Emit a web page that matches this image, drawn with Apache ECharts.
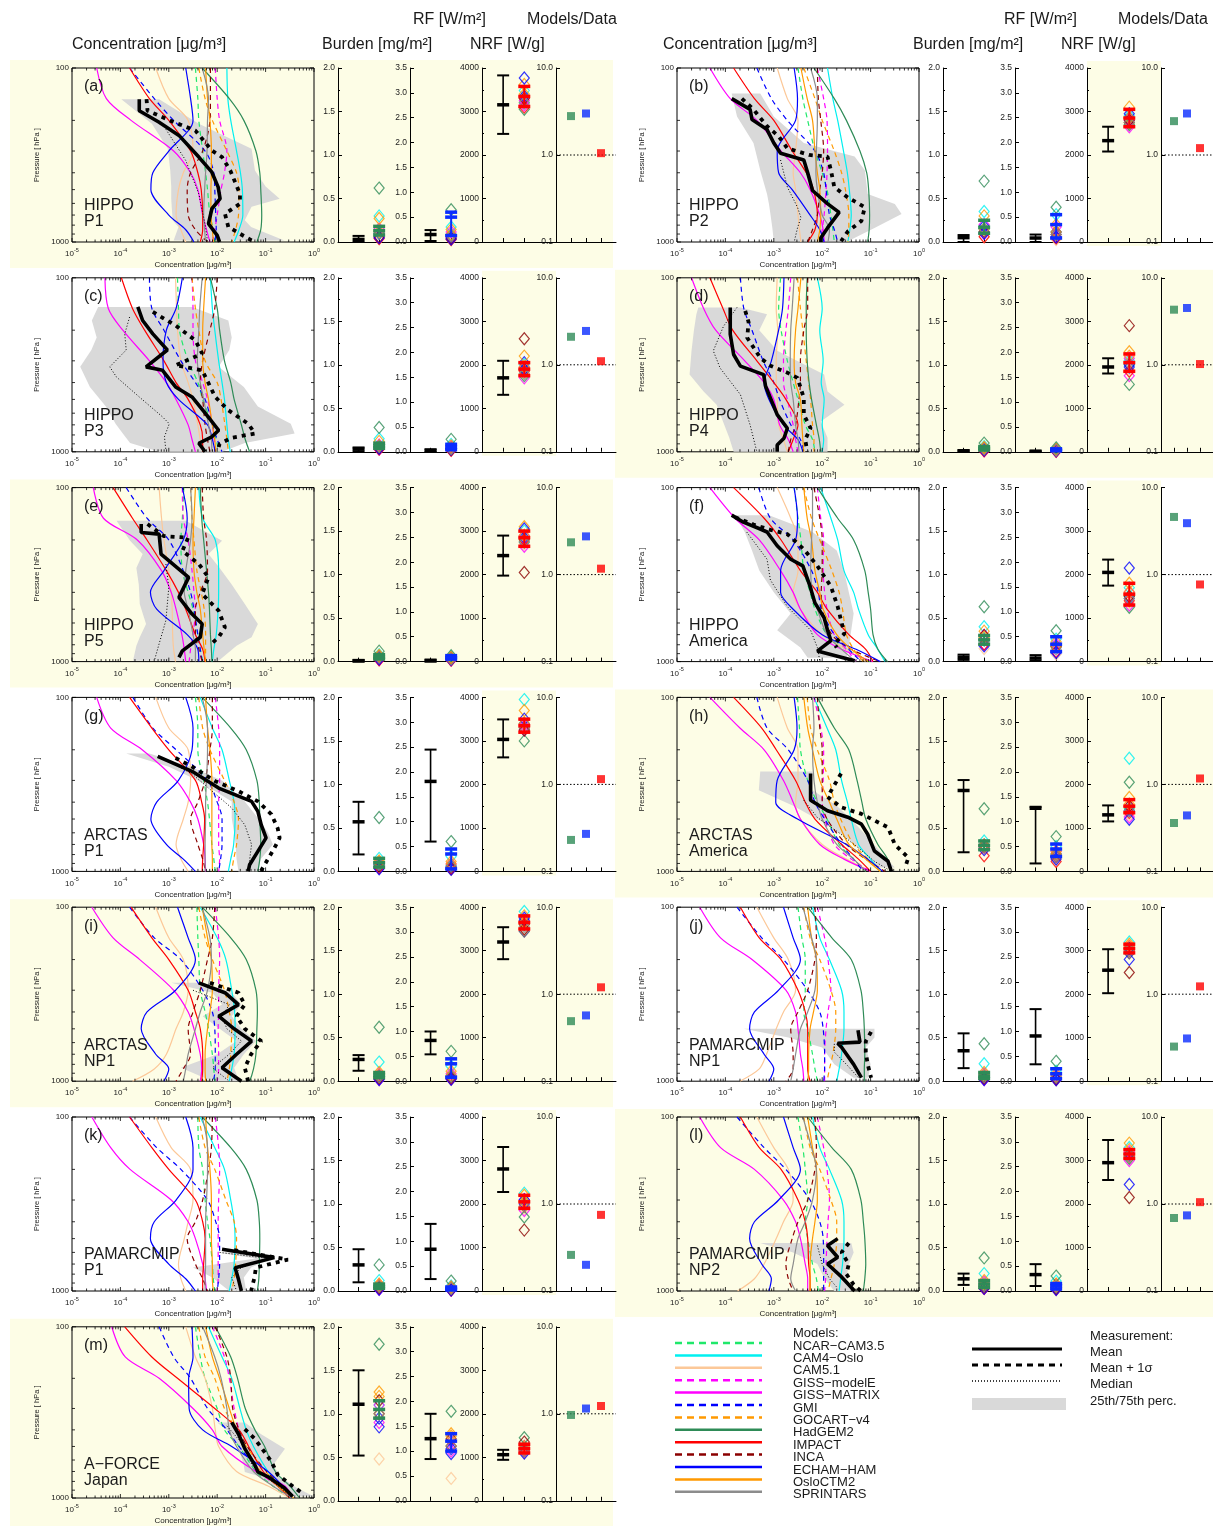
<!DOCTYPE html>
<html><head><meta charset="utf-8">
<script src="https://cdn.jsdelivr.net/npm/echarts@6/dist/echarts.min.js"></script>
<style>html,body{margin:0;padding:0;background:#fff}#c{width:1213px;height:1526px}</style>
</head><body><div id="c"></div><script>
// ---------- model metadata ----------
const MODEL_NAMES = ['NCAR−CAM3.5','CAM4−Oslo','CAM5.1','GISS−modelE','GISS−MATRIX','GMI','GOCART−v4','HadGEM2','IMPACT','INCA','ECHAM−HAM','OsloCTM2','SPRINTARS'];
const MODEL_COLORS = ['#1fe86a','#00f0f0','#fcc898','#ff00ff','#ff00ff','#0000ff','#ff9900','#2e8b57','#ff0000','#8b0000','#0000ff','#ff9900','#8c8c8c'];
const MODEL_DASHED = [true,false,false,true,false,true,true,false,false,true,false,false,false];
// model profile pressure levels (hPa); profile values are log10 of concentration [ug/m3]
const P_LEVELS = [100,150,200,300,400,500,700,850,1000];
const PANELS = ['a','b','c','d','e','f','g','h','i','j','k','l','m'];
const PANEL_TITLES = [['HIPPO','P1'],['HIPPO','P2'],['HIPPO','P3'],['HIPPO','P4'],['HIPPO','P5'],['HIPPO','America'],['ARCTAS','P1'],['ARCTAS','America'],['ARCTAS','NP1'],['PAMARCMIP','NP1'],['PAMARCMIP','P1'],['PAMARCMIP','NP2'],['A−FORCE','Japan']];

// ---------- profiles (log10 concentration at P_LEVELS) ----------
const prof_a = [[-2.45,-2.4,-2.38,-2.3,-2.24,-2.2,-2.15,-2.08,-2.05],[-1.8,-1.78,-1.72,-1.6,-1.52,-1.48,-1.47,-1.55,-1.65],[-3.27,-3.0,-2.6,-2.5,-2.7,-2.8,-2.85,-2.75,-2.65],[-2.04,-2.0,-1.95,-1.8,-1.85,-1.92,-2.0,-2.05,-2.1],[-4.49,-4.29,-3.78,-2.9,-2.55,-2.4,-2.3,-2.22,-2.15],[-3.81,-3.3,-2.9,-2.25,-2.07,-2.05,-2.03,-2.02,-2.05],[-2.38,-2.25,-2.1,-1.8,-1.6,-1.55,-1.56,-1.62,-1.7],[-2.31,-1.75,-1.45,-1.2,-1.12,-1.1,-1.08,-1.1,-1.18],[-3.81,-3.4,-3.0,-2.55,-2.4,-2.33,-2.3,-2.3,-2.35],[-2.14,-2.14,-2.15,-2.3,-2.55,-2.62,-2.6,-2.45,-2.2],[-2.65,-2.55,-2.5,-3.0,-3.33,-3.37,-3.0,-2.65,-2.48],[-2.24,-2.2,-2.15,-2.12,-2.12,-2.13,-2.13,-2.1,-2.08],[-2.31,-2.18,-2.2,-2.21,-2.24,-2.26,-2.28,-2.26,-2.24]];
const prof_b = [[-2.5,-2.4,-2.3,-2.15,-2.0,-1.9,-1.82,-1.78,-1.75],[-1.89,-1.78,-1.68,-1.56,-1.48,-1.44,-1.4,-1.43,-1.47],[-2.93,-2.72,-2.5,-2.55,-2.6,-2.55,-2.5,-2.47,-2.44],[-2.1,-1.97,-1.9,-1.89,-1.9,-1.92,-1.96,-2.0,-2.03],[-4.32,-3.9,-3.35,-2.85,-2.45,-2.25,-2.05,-1.98,-1.96],[-3.35,-3.05,-2.72,-2.15,-1.97,-1.92,-1.85,-1.75,-1.68],[-2.38,-2.15,-2.0,-1.75,-1.6,-1.52,-1.45,-1.45,-1.47],[-2.17,-1.75,-1.5,-1.22,-1.08,-1.04,-1.02,-1.03,-1.06],[-3.83,-3.4,-3.0,-2.62,-2.33,-2.18,-2.1,-2.15,-2.3],[-2.1,-2.08,-2.03,-1.97,-2.0,-2.05,-2.1,-2.2,-2.3],[-2.58,-2.51,-2.55,-2.93,-2.9,-2.62,-2.25,-2.05,-1.96],[-2.44,-2.31,-2.2,-2.15,-2.1,-2.05,-2.03,-2.05,-2.1],[-2.24,-2.1,-2.1,-2.12,-2.13,-2.1,-2.0,-1.85,-1.88]];
const prof_c = [[-2.82,-2.8,-2.78,-2.6,-2.4,-2.3,-2.1,-2.02,-1.97],[-2.14,-2.1,-2.05,-1.97,-1.9,-1.85,-1.8,-1.77,-1.73],[-2.86,-2.84,-2.82,-2.75,-2.6,-2.5,-2.4,-2.35,-2.3],[-2.52,-2.5,-2.5,-2.45,-2.3,-2.2,-2.1,-2.06,-2.04],[-4.32,-4.25,-3.95,-3.4,-3.05,-2.85,-2.6,-2.52,-2.45],[-3.4,-3.35,-3.1,-2.75,-2.45,-2.25,-2.1,-2.0,-1.9],[-2.52,-2.45,-2.38,-2.25,-2.0,-1.92,-1.84,-1.8,-1.77],[-2.14,-2.0,-1.95,-1.85,-1.72,-1.65,-1.5,-1.42,-1.33],[-3.98,-3.75,-3.5,-3.1,-2.85,-2.6,-2.35,-2.3,-2.3],[-2.0,-2.05,-2.15,-2.3,-2.35,-2.3,-2.25,-2.2,-2.15],[-2.72,-2.85,-3.05,-3.12,-3.05,-2.8,-2.2,-2.1,-2.04],[-2.24,-2.28,-2.3,-2.3,-2.25,-2.18,-2.1,-2.05,-2.03],[-2.31,-2.36,-2.38,-2.41,-2.35,-2.28,-2.18,-2.12,-2.11]];
const prof_d = [[-2.86,-2.9,-2.85,-2.72,-2.6,-2.5,-2.35,-2.2,-2.15],[-2.1,-2.0,-2.05,-1.98,-2.02,-1.96,-2.0,-1.97,-2.0],[-2.93,-2.95,-2.92,-2.95,-2.95,-2.93,-2.9,-2.8,-2.72],[-2.65,-2.7,-2.75,-2.8,-2.8,-2.72,-2.6,-2.55,-2.5],[-4.7,-4.45,-4.2,-3.6,-3.2,-3.0,-2.88,-2.7,-2.6],[-3.69,-3.62,-3.45,-3.22,-3.0,-2.88,-2.65,-2.45,-2.38],[-2.51,-2.45,-2.4,-2.33,-2.28,-2.24,-2.2,-2.17,-2.17],[-2.31,-2.33,-2.33,-2.31,-2.27,-2.22,-2.12,-2.06,-2.03],[-4.32,-4.05,-3.85,-3.35,-3.0,-2.75,-2.5,-2.6,-2.7],[-2.3,-2.3,-2.38,-2.45,-2.45,-2.48,-2.55,-2.65,-2.7],[-2.79,-2.82,-2.9,-3.05,-3.2,-3.1,-2.8,-2.5,-2.4],[-2.44,-2.5,-2.55,-2.58,-2.55,-2.45,-2.42,-2.4,-2.38],[-2.58,-2.62,-2.65,-2.66,-2.65,-2.6,-2.55,-2.5,-2.48]];
const prof_e = [[-2.69,-2.72,-2.75,-2.72,-2.6,-2.5,-2.4,-2.35,-2.3],[-2.38,-2.3,-2.04,-1.97,-1.97,-1.98,-2.02,-2.07,-2.1],[-3.2,-3.15,-3.1,-3.0,-2.95,-2.93,-2.92,-2.9,-2.86],[-2.72,-2.7,-2.6,-2.52,-2.48,-2.45,-2.5,-2.55,-2.58],[-4.56,-4.35,-3.65,-3.15,-2.95,-2.85,-2.73,-2.68,-2.65],[-3.88,-3.45,-3.0,-2.7,-2.55,-2.48,-2.4,-2.35,-2.31],[-2.55,-2.52,-2.48,-2.42,-2.33,-2.27,-2.24,-2.24,-2.24],[-2.35,-2.32,-2.28,-2.22,-2.18,-2.16,-2.14,-2.12,-2.11],[-4.15,-3.75,-3.45,-3.05,-2.8,-2.65,-2.45,-2.3,-2.25],[-2.31,-2.28,-2.22,-2.2,-2.35,-2.45,-2.45,-2.38,-2.31],[-2.72,-2.62,-2.7,-3.1,-3.38,-3.25,-2.62,-2.4,-2.38],[-2.45,-2.48,-2.5,-2.48,-2.42,-2.35,-2.3,-2.27,-2.24],[-2.55,-2.52,-2.55,-2.65,-2.68,-2.6,-2.5,-2.45,-2.45]];
const prof_f = [[-2.58,-2.5,-2.44,-2.38,-2.25,-2.15,-1.9,-1.5,-1.0],[-2.03,-1.82,-1.68,-1.55,-1.35,-1.25,-1.05,-0.85,-0.7],[-2.93,-2.65,-2.5,-2.5,-2.6,-2.45,-2.0,-1.5,-1.1],[-2.1,-2.03,-1.97,-1.98,-1.95,-1.9,-1.75,-1.5,-1.3],[-4.32,-3.8,-3.3,-2.86,-2.6,-2.45,-2.1,-1.6,-0.95],[-3.31,-3.07,-2.6,-2.22,-2.08,-2.02,-1.75,-1.45,-1.2],[-2.38,-2.22,-2.05,-1.8,-1.65,-1.58,-1.5,-1.35,-1.15],[-2.1,-1.68,-1.35,-1.12,-1.05,-1.0,-0.95,-0.85,-0.65],[-3.83,-3.2,-2.85,-2.45,-2.1,-1.9,-1.45,-1.1,-0.95],[-2.17,-2.05,-2.0,-2.0,-2.02,-2.0,-1.8,-1.4,-0.8],[-2.58,-2.51,-2.55,-2.86,-2.86,-2.6,-2.0,-1.3,-0.8],[-2.38,-2.31,-2.22,-2.15,-2.05,-1.98,-1.7,-1.4,-1.05],[-2.2,-2.2,-2.22,-2.24,-2.2,-2.1,-1.9,-1.6,-1.3]];
const prof_g = [[-2.45,-2.4,-2.4,-2.28,-2.2,-2.16,-2.11,-2.07,-2.04],[-2.35,-2.1,-1.9,-1.75,-1.65,-1.63,-1.66,-1.72,-1.77],[-3.27,-3.0,-2.6,-2.55,-2.6,-2.7,-2.85,-2.75,-2.6],[-2.04,-1.97,-1.95,-1.95,-1.97,-1.97,-1.97,-1.95,-1.97],[-4.49,-4.2,-3.55,-2.85,-2.55,-2.4,-2.28,-2.25,-2.24],[-3.74,-3.33,-2.85,-2.2,-2.0,-1.9,-1.9,-1.93,-1.97],[-2.38,-2.3,-2.15,-1.85,-1.65,-1.56,-1.6,-1.66,-1.7],[-2.31,-1.72,-1.4,-1.18,-1.13,-1.12,-1.1,-1.12,-1.16],[-3.81,-3.35,-3.0,-2.45,-2.32,-2.26,-2.28,-2.3,-2.31],[-2.1,-2.1,-2.15,-2.25,-2.4,-2.55,-2.4,-2.3,-2.24],[-2.65,-2.5,-2.52,-2.8,-3.25,-3.37,-3.05,-2.7,-2.45],[-2.24,-2.2,-2.15,-2.11,-2.11,-2.11,-2.11,-2.1,-2.1],[-2.31,-2.2,-2.2,-2.22,-2.24,-2.24,-2.25,-2.25,-2.25]];
const prof_h = [[-2.51,-2.47,-2.45,-2.3,-2.1,-1.9,-1.65,-1.35,-1.1],[-2.17,-1.9,-1.72,-1.6,-1.48,-1.4,-1.25,-1.0,-0.8],[-2.93,-2.72,-2.5,-2.5,-2.55,-2.45,-2.0,-1.5,-1.0],[-2.17,-2.03,-1.97,-1.98,-2.0,-1.95,-1.75,-1.4,-1.0],[-4.32,-3.7,-3.2,-2.8,-2.6,-2.45,-2.05,-1.55,-1.0],[-3.35,-3.14,-2.7,-2.3,-2.15,-1.95,-1.6,-1.35,-1.15],[-2.31,-2.24,-2.1,-1.85,-1.75,-1.62,-1.35,-1.05,-0.8],[-2.1,-1.75,-1.45,-1.28,-1.18,-1.1,-0.85,-0.65,-0.6],[-3.83,-3.25,-2.95,-2.55,-2.35,-2.15,-1.6,-1.25,-1.0],[-2.1,-2.05,-2.0,-2.0,-2.0,-1.9,-1.5,-1.1,-0.7],[-2.58,-2.52,-2.58,-2.93,-2.96,-2.51,-1.5,-1.06,-0.75],[-2.38,-2.3,-2.2,-2.05,-1.85,-1.7,-1.45,-1.1,-0.8],[-2.2,-2.17,-2.2,-2.17,-2.1,-2.0,-1.7,-1.35,-1.1]];
const prof_i = [[-2.42,-2.4,-2.38,-2.35,-2.25,-2.18,-2.1,-2.07,-2.05],[-2.35,-2.0,-1.82,-1.7,-1.64,-1.63,-1.65,-1.7,-1.75],[-3.27,-3.0,-2.7,-2.6,-2.7,-2.85,-3.05,-3.3,-3.75],[-2.04,-1.97,-1.95,-1.97,-1.97,-1.98,-1.97,-1.97,-2.0],[-4.59,-4.15,-3.6,-2.9,-2.6,-2.48,-2.35,-2.32,-2.35],[-3.81,-3.3,-2.75,-2.3,-2.1,-2.05,-2.04,-2.04,-2.08],[-2.38,-2.25,-2.1,-1.85,-1.75,-1.7,-1.72,-1.75,-1.8],[-2.31,-1.72,-1.4,-1.2,-1.17,-1.18,-1.2,-1.25,-1.33],[-3.78,-3.35,-3.0,-2.6,-2.45,-2.35,-2.3,-2.3,-2.32],[-2.05,-2.1,-2.2,-2.35,-2.5,-2.6,-2.55,-2.7,-2.85],[-2.82,-2.6,-2.45,-2.86,-3.45,-3.57,-3.27,-3.0,-3.1],[-2.31,-2.2,-2.12,-2.1,-2.15,-2.2,-2.25,-2.25,-2.24],[-2.31,-2.15,-2.12,-2.2,-2.35,-2.45,-2.6,-2.65,-2.7]];
const prof_j = [[-2.5,-2.42,-2.35,-2.35,-2.38,-2.3,-2.2,-2.15,-2.1],[-2.2,-2.05,-1.85,-1.6,-1.55,-1.55,-1.6,-1.65,-1.7],[-3.35,-3.0,-2.7,-2.55,-2.8,-2.95,-3.15,-3.3,-3.7],[-2.1,-1.95,-1.88,-1.82,-1.88,-1.92,-1.95,-1.95,-1.95],[-4.53,-4.1,-3.45,-2.75,-2.55,-2.5,-2.45,-2.4,-2.38],[-3.76,-3.25,-2.8,-2.3,-2.05,-1.98,-1.95,-1.95,-1.97],[-2.38,-2.25,-2.05,-1.82,-1.72,-1.72,-1.78,-1.85,-1.9],[-2.3,-1.8,-1.4,-1.2,-1.15,-1.13,-1.12,-1.13,-1.13],[-3.69,-3.3,-2.85,-2.5,-2.35,-2.3,-2.3,-2.3,-2.25],[-2.15,-2.12,-2.15,-2.3,-2.5,-2.65,-2.6,-2.6,-2.75],[-2.8,-2.6,-2.45,-2.9,-3.4,-3.5,-3.2,-3.0,-3.1],[-2.3,-2.22,-2.12,-2.1,-2.18,-2.25,-2.28,-2.28,-2.3],[-2.4,-2.22,-2.12,-2.15,-2.3,-2.45,-2.55,-2.6,-2.65]];
const prof_k = [[-2.4,-2.38,-2.3,-2.25,-2.2,-2.15,-2.1,-2.08,-2.05],[-2.35,-2.05,-1.85,-1.72,-1.65,-1.63,-1.65,-1.7,-1.75],[-3.27,-2.95,-2.55,-2.5,-2.6,-2.68,-2.8,-2.75,-2.65],[-2.04,-1.97,-1.95,-1.97,-1.98,-1.98,-1.98,-1.98,-2.0],[-4.59,-4.2,-3.8,-2.95,-2.6,-2.45,-2.3,-2.25,-2.22],[-3.81,-3.25,-2.75,-2.2,-2.03,-1.95,-1.95,-1.97,-2.0],[-2.38,-2.25,-2.05,-1.82,-1.65,-1.6,-1.62,-1.65,-1.7],[-2.31,-1.72,-1.4,-1.18,-1.13,-1.12,-1.13,-1.14,-1.17],[-3.81,-3.35,-3.0,-2.45,-2.3,-2.25,-2.28,-2.3,-2.3],[-2.1,-2.12,-2.18,-2.3,-2.45,-2.62,-2.45,-2.3,-2.2],[-2.65,-2.5,-2.5,-2.85,-3.3,-3.38,-3.0,-2.65,-2.45],[-2.24,-2.2,-2.15,-2.12,-2.12,-2.12,-2.1,-2.1,-2.08],[-2.31,-2.2,-2.2,-2.22,-2.24,-2.24,-2.24,-2.25,-2.25]];
const prof_l = [[-2.5,-2.4,-2.35,-2.3,-2.35,-2.3,-2.2,-2.12,-2.08],[-2.2,-2.05,-1.85,-1.6,-1.55,-1.55,-1.58,-1.62,-1.65],[-3.35,-3.0,-2.7,-2.6,-2.8,-2.95,-3.2,-3.4,-3.75],[-2.1,-1.97,-1.9,-1.85,-1.88,-1.9,-1.92,-1.93,-1.95],[-4.53,-4.1,-3.4,-2.8,-2.55,-2.45,-2.35,-2.3,-2.3],[-3.76,-3.2,-2.75,-2.25,-2.05,-1.98,-1.97,-1.97,-1.97],[-2.38,-2.25,-2.05,-1.82,-1.7,-1.7,-1.75,-1.82,-1.88],[-2.3,-1.8,-1.4,-1.2,-1.15,-1.12,-1.1,-1.12,-1.15],[-3.69,-3.3,-2.85,-2.5,-2.35,-2.3,-2.28,-2.25,-2.25],[-2.15,-2.12,-2.15,-2.3,-2.5,-2.62,-2.75,-2.7,-2.6],[-2.8,-2.6,-2.45,-2.9,-3.4,-3.5,-3.25,-3.05,-3.1],[-2.3,-2.2,-2.12,-2.1,-2.15,-2.2,-2.25,-2.25,-2.25],[-2.4,-2.22,-2.12,-2.2,-2.35,-2.5,-2.6,-2.65,-2.55]];
const prof_m = [[-2.45,-2.35,-2.25,-2.0,-1.85,-1.55,-1.2,-0.85,-0.5],[-2.18,-1.9,-1.7,-1.53,-1.4,-1.25,-0.95,-0.7,-0.45],[-2.65,-2.45,-2.25,-2.1,-2.04,-1.97,-1.6,-0.95,-0.5],[-2.1,-1.85,-1.75,-1.65,-1.55,-1.43,-1.15,-0.75,-0.45],[-4.18,-3.9,-3.2,-2.5,-2.1,-1.9,-1.2,-0.6,-0.45],[-3.2,-2.9,-2.55,-2.2,-1.8,-1.55,-1.1,-0.75,-0.45],[-2.38,-2.25,-2.05,-1.85,-1.6,-1.4,-1.0,-0.7,-0.45],[-2.04,-1.72,-1.58,-1.42,-1.22,-1.02,-0.8,-0.5,-0.3],[-3.91,-3.35,-2.82,-2.05,-1.55,-1.35,-1.05,-0.75,-0.5],[-2.04,-1.8,-1.72,-1.68,-1.55,-1.38,-0.98,-0.65,-0.45],[-2.52,-2.5,-2.59,-2.58,-2.3,-1.7,-0.95,-0.65,-0.45],[-2.24,-2.1,-1.95,-1.75,-1.6,-1.45,-1.1,-0.75,-0.42],[-2.3,-2.05,-1.92,-1.8,-1.75,-1.6,-1.25,-0.85,-0.45]];

// ---------- measurements: [pressure hPa, log10 conc] ; band: [P, log10 25th, log10 75th] ----------
const mean_a = [[151,-3.61],[176,-3.61],[205,-3.2],[244,-2.79],[325,-2.38],[397,-2.11],[484,-1.98],[564,-1.94],[644,-2.11],[785,-2.18],[916,-2.0],[1000,-1.95]];
const sig_a = [[151,-3.46],[176,-3.44],[205,-2.89],[229,-2.45],[298,-2.11],[325,-1.9],[388,-1.73],[529,-1.53],[603,-1.53],[688,-1.84],[820,-1.77],[980,-1.29]];
const med_a = [[225,-3.06],[340,-2.65],[529,-2.38],[820,-2.24],[1000,-2.2]];
const band_a = [[151,-3.98,-3.2],[209,-3.35,-2.38],[291,-3.02,-1.29],[388,-2.97,-1.22],[480,-2.95,-1.0],[564,-2.95,-0.71],[627,-2.94,-1.29],[750,-2.92,-1.43],[820,-2.8,-1.3],[980,-2.9,-0.61]];
const mean_b = [[150,-3.87],[173,-3.49],[198,-3.45],[226,-3.14],[270,-3.0],[309,-2.86],[338,-2.38],[400,-2.3],[506,-2.2],[600,-1.9],[676,-1.65],[830,-1.89],[948,-2.03],[1000,-2.03]];
const sig_b = [[150,-3.66],[173,-3.42],[216,-3.14],[247,-2.9],[289,-2.72],[316,-2.27],[323,-1.89],[387,-1.82],[483,-1.75],[555,-1.47],[632,-1.12],[757,-1.19],[869,-1.47],[990,-1.61]];
const med_b = [[338,-2.86],[483,-2.72],[632,-2.51],[723,-2.44],[830,-2.51],[1000,-2.58]];
const band_b = [[140,-3.87,-3.28],[190,-3.76,-3.0],[270,-3.42,-2.38],[323,-3.35,-1.33],[387,-3.28,-1.12],[530,-3.14,-1.06],[605,-3.1,-0.5],[690,-3.07,-0.36],[830,-3.03,-0.92],[990,-3.0,-1.47]];
const mean_c = [[147,-3.64],[176,-3.54],[210,-3.33],[260,-3.03],[325,-3.47],[340,-3.13],[424,-2.86],[484,-2.52],[603,-2.24],[752,-1.97],[820,-2.11],[893,-2.38],[1000,-2.25]];
const sig_c = [[157,-3.33],[188,-2.86],[229,-2.45],[273,-2.31],[318,-2.86],[340,-2.31],[484,-2.04],[577,-1.77],[690,-1.36],[785,-1.22],[830,-1.7],[900,-1.95],[1000,-2.0]];
const med_c = [[168,-3.81],[210,-3.91],[260,-3.88],[325,-4.22],[372,-4.08],[484,-3.61],[630,-3.13],[690,-2.99],[820,-3.09],[980,-3.06]];
const band_c = [[147,-4.46,-2.52],[176,-4.59,-1.77],[220,-4.49,-1.7],[260,-4.6,-1.75],[325,-4.83,-1.97],[424,-4.63,-1.45],[550,-4.3,-1.16],[690,-4.1,-0.48],[785,-3.95,-0.4],[890,-3.8,-1.43],[1000,-3.2,-1.9]];
const mean_d = [[148,-3.9],[211,-3.9],[276,-3.83],[322,-3.69],[360,-3.21],[420,-3.17],[490,-3.07],[612,-2.93],[732,-2.72],[836,-2.79],[913,-2.93],[1000,-2.93]];
const sig_d = [[155,-3.59],[180,-3.52],[221,-3.55],[288,-3.28],[320,-3.07],[351,-2.72],[376,-2.51],[490,-2.38],[612,-2.38],[732,-2.24],[850,-2.35],[1000,-2.31]];
const med_d = [[148,-3.76],[190,-4.04],[263,-4.25],[330,-4.11],[469,-3.69],[700,-3.49],[1000,-3.35]];
const band_d = [[148,-4.56,-3.69],[162,-4.6,-3.14],[200,-4.65,-3.3],[263,-4.7,-2.93],[360,-4.74,-1.96],[450,-4.45,-1.89],[536,-4.18,-1.54],[670,-4.05,-2.03],[830,-3.92,-1.89],[1000,-3.83,-1.89]];
const mean_e = [[162,-3.57],[181,-3.57],[185,-3.2],[241,-3.16],[328,-2.59],[427,-2.79],[533,-2.52],[608,-2.31],[725,-2.35],[867,-2.72],[945,-2.79]];
const sig_e = [[162,-3.44],[190,-3.1],[194,-2.6],[231,-2.72],[275,-2.38],[328,-2.18],[409,-2.31],[510,-1.97],[635,-1.84],[725,-1.97],[780,-2.1]];
const med_e = [[275,-3.06],[374,-3.0],[580,-3.06],[790,-3.2],[990,-3.3]];
const band_e = [[155,-4.08,-2.65],[202,-3.8,-1.9],[241,-3.54,-2.18],[290,-3.67,-1.95],[360,-3.62,-1.7],[466,-3.6,-1.43],[608,-3.47,-1.16],[725,-3.6,-1.29],[810,-3.67,-1.6],[990,-3.74,-1.97]];
const mean_f = [[144,-3.87],[158,-3.63],[173,-3.28],[180,-3.14],[216,-2.93],[258,-2.65],[282,-2.4],[370,-2.25],[460,-2.15],[560,-1.96],[660,-1.89],[757,-1.82],[870,-2.1],[990,-1.33]];
const sig_f = [[148,-3.8],[163,-3.42],[175,-3.07],[185,-2.72],[226,-2.38],[282,-2.1],[323,-1.96],[370,-1.82],[483,-1.68],[580,-1.61],[690,-1.54],[792,-1.75],[830,-1.7]];
const med_f = [[180,-3.56],[258,-3.14],[340,-3.07],[483,-2.72],[660,-2.24],[830,-2.1],[990,-2.05]];
const band_f = [[144,-3.8,-3.1],[180,-3.6,-2.2],[230,-3.45,-1.7],[300,-3.3,-1.55],[400,-3.0,-1.45],[530,-2.65,-1.35],[660,-2.93,-1.4],[830,-2.45,-1.45],[950,-2.3,-1.5]];
const mean_g = [[218,-3.23],[266,-2.52],[332,-1.97],[396,-1.29],[452,-1.16],[540,-1.09],[642,-0.99],[767,-1.16],[915,-1.33],[1000,-1.36]];
const sig_g = [[223,-2.86],[250,-2.52],[303,-2.04],[346,-1.56],[396,-1.16],[470,-0.88],[565,-0.75],[642,-0.71],[736,-0.82],[915,-1.02],[1000,-1.1]];
const med_g = [[223,-3.13],[275,-2.52],[432,-1.7],[540,-1.43],[700,-1.29],[1000,-1.36]];
const band_g = [[210,-3.88,-3.4],[250,-3.0,-2.55],[300,-2.4,-1.9],[396,-1.7,-1.43],[494,-1.7,-1.16],[600,-1.65,-0.95],[700,-1.62,-0.85],[850,-1.6,-1.1],[1000,-1.56,-1.16]];
const mean_h = [[274,-2.24],[390,-2.24],[448,-1.89],[488,-1.47],[535,-1.19],[612,-1.06],[764,-0.92],[875,-0.64],[1000,-0.57]];
const sig_h = [[274,-1.61],[373,-1.89],[428,-1.61],[467,-1.19],[558,-0.64],[700,-0.5],[835,-0.22],[954,-0.29]];
const med_h = [[390,-2.38],[490,-2.1],[612,-1.61],[730,-1.26],[875,-0.92],[1000,-0.57]];
const band_h = [[267,-3.28,-2.2],[342,-3.31,-2.2],[420,-2.6,-1.7],[520,-2.0,-1.35],[640,-1.5,-1.05],[800,-1.1,-0.75],[950,-0.85,-0.5]];
const mean_i = [[272,-2.38],[310,-1.84],[363,-1.56],[423,-1.97],[500,-1.65],[588,-1.29],[700,-1.6],[837,-1.9],[1000,-1.5]];
const sig_i = [[272,-2.15],[310,-1.56],[363,-1.43],[423,-1.6],[500,-1.43],[588,-1.09],[700,-1.3],[837,-1.43],[1000,-1.36]];
const med_i = [[300,-2.5],[363,-1.75],[423,-1.9],[500,-1.8],[588,-1.5],[700,-1.75],[837,-2.1],[1000,-1.75]];
const band_i = [[272,-2.95,-2.3],[310,-2.1,-1.7],[363,-1.9,-1.5],[423,-2.3,-1.7],[500,-1.95,-1.5],[588,-1.6,-1.2],[700,-2.0,-1.45],[837,-2.75,-1.65],[1000,-2.1,-1.55]];
const mean_j = [[509,-1.26],[596,-1.22],[605,-1.68],[638,-1.6],[800,-1.35],[955,-1.19]];
const sig_j = [[521,-0.99],[590,-1.1],[680,-1.1],[800,-1.06],[955,-0.99]];
const med_j = [[610,-1.75],[680,-1.75],[800,-1.5],[955,-1.25]];
const band_j = [[500,-3.62,-0.92],[560,-2.7,-0.92],[640,-2.0,-1.1],[800,-1.75,-1.0],[955,-1.35,-1.05]];
const mean_k = [[575,-1.9],[643,-0.82],[734,-1.63],[857,-1.56],[1000,-1.5]];
const sig_k = [[583,-1.65],[660,-0.54],[733,-1.2],[837,-1.23],[1000,-1.3]];
const med_k = [[600,-1.95],[650,-0.95],[733,-1.5],[837,-1.7],[1000,-1.6]];
const band_k = [[600,-2.0,-1.7],[650,-1.2,-0.9],[733,-2.5,-1.3],[837,-2.1,-1.45],[1000,-1.75,-1.4]];
const mean_l = [[500,-1.68],[548,-1.89],[640,-1.68],[700,-1.89],[830,-1.6],[1000,-1.33]];
const sig_l = [[530,-1.45],[600,-1.6],[700,-1.45],[800,-1.5],[920,-1.35],[1000,-1.2]];
const med_l = [[548,-2.1],[700,-2.0],[850,-1.85],[950,-1.7]];
const band_l = [[530,-3.28,-1.4],[600,-2.6,-1.35],[700,-2.1,-1.45],[850,-1.95,-1.5],[1000,-1.75,-1.35]];
const mean_m = [[362,-1.7],[423,-1.56],[515,-1.43],[643,-1.22],[704,-1.16],[752,-0.95],[875,-0.61],[980,-0.44]];
const sig_m = [[396,-1.43],[452,-1.22],[540,-1.02],[613,-0.88],[731,-0.75],[837,-0.48],[955,-0.2]];
const med_m = [[379,-1.8],[493,-1.45],[643,-1.28],[752,-1.0],[875,-0.68],[980,-0.48]];
const band_m = [[362,-2.0,-1.43],[423,-1.7,-1.1],[515,-1.55,-0.6],[643,-1.45,-0.85],[704,-1.43,-0.75],[752,-1.1,-0.7],[875,-0.75,-0.35],[980,-0.55,0.0]];

// ---------- burden / RF / NRF / ratios, panels a..m ----------
// obs & bars: [low, mean, high]; model values ordered as MODEL_NAMES
const burdenObs = [[0,0.03,0.07],[0,0.05,0.08],[0,0.03,0.05],[0,0.01,0.02],[0,0.01,0.02],[0.02,0.05,0.08],[0.195,0.57,0.8],[0.22,0.93,1.05],[0.12,0.25,0.3],[0.15,0.35,0.55],[0.1,0.3,0.48],[0.07,0.14,0.2],[0.52,1.11,1.5]];
const burdenBar = [[0.08,0.13,0.18],[0.1,0.17,0.25],[0.04,0.07,0.1],[0.02,0.04,0.06],[0.03,0.05,0.08],[0.2,0.25,0.3],[0.05,0.1,0.15],[0.25,0.3,0.35],[0.04,0.07,0.1],[0.03,0.06,0.1],[0.03,0.05,0.08],[0.04,0.08,0.12],[0.95,1.05,1.15]];
const burdenModels = [
 [0.1,0.3,0.04,0.15,0.05,0.1,0.27,0.62,0.04,0.06,0.05,0.12,0.1],
 [0.15,0.35,0.06,0.2,0.1,0.18,0.3,0.7,0.06,0.12,0.1,0.15,0.15],
 [0.06,0.15,0.03,0.08,0.03,0.06,0.12,0.28,0.03,0.05,0.04,0.07,0.06],
 [0.03,0.06,0.02,0.04,0.01,0.03,0.05,0.1,0.01,0.03,0.02,0.04,0.03],
 [0.05,0.08,0.03,0.06,0.02,0.05,0.07,0.12,0.02,0.05,0.03,0.06,0.05],
 [0.25,0.4,0.15,0.3,0.2,0.25,0.35,0.63,0.2,0.3,0.18,0.28,0.25],
 [0.08,0.15,0.04,0.1,0.04,0.08,0.12,0.62,0.04,0.06,0.03,0.1,0.08],
 [0.3,0.35,0.25,0.3,0.28,0.3,0.3,0.72,0.18,0.28,0.25,0.3,0.28],
 [0.05,0.22,0.02,0.08,0.02,0.06,0.1,0.62,0.03,0.04,0.02,0.07,0.05],
 [0.05,0.2,0.02,0.08,0.02,0.05,0.1,0.43,0.03,0.04,0.02,0.07,0.05],
 [0.05,0.12,0.02,0.07,0.02,0.05,0.08,0.3,0.03,0.04,0.02,0.06,0.05],
 [0.06,0.2,0.03,0.1,0.03,0.06,0.12,0.38,0.03,0.05,0.03,0.08,0.06],
 [1.0,1.1,0.48,1.1,0.9,0.95,1.25,1.8,1.0,1.15,0.85,1.2,1.0]];
const rfObs = [[0.02,0.15,0.24],[0,0.08,0.15],[0,0.03,0.05],[0,0.01,0.02],[0,0.02,0.04],[0.02,0.07,0.13],[0.6,1.81,2.45],[0.16,1.27,1.3],[0.54,0.82,1.0],[0.34,0.91,1.45],[0.24,0.84,1.35],[0.1,0.33,0.54],[0.84,1.25,1.75]];
const rfBar = [[0.13,0.5,0.6],[0.08,0.35,0.55],[0.04,0.09,0.15],[0.02,0.04,0.06],[0.05,0.08,0.12],[0.2,0.35,0.5],[0.05,0.35,0.45],[0.3,0.45,0.55],[0.08,0.35,0.45],[0.05,0.15,0.25],[0.02,0.05,0.08],[0.04,0.1,0.15],[1.0,1.2,1.35]];
const rfModels = [
 [0.15,0.3,0.05,0.2,0.08,0.12,0.25,0.65,0.05,0.08,0.06,0.15,0.12],
 [0.2,0.55,0.05,0.3,0.1,0.2,0.35,0.7,0.08,0.15,0.1,0.2,0.15],
 [0.08,0.15,0.03,0.1,0.04,0.06,0.12,0.25,0.03,0.05,0.05,0.08,0.06],
 [0.03,0.05,0.02,0.04,0.01,0.03,0.05,0.08,0.01,0.03,0.02,0.04,0.03],
 [0.06,0.1,0.03,0.07,0.03,0.06,0.09,0.12,0.03,0.06,0.04,0.07,0.05],
 [0.3,0.45,0.15,0.35,0.2,0.3,0.4,0.62,0.2,0.3,0.18,0.3,0.25],
 [0.12,0.3,0.05,0.15,0.06,0.1,0.2,0.6,0.05,0.08,0.04,0.15,0.1],
 [0.35,0.5,0.25,0.4,0.3,0.35,0.4,0.7,0.2,0.3,0.25,0.35,0.3],
 [0.1,0.3,0.04,0.15,0.05,0.1,0.2,0.6,0.05,0.08,0.04,0.12,0.1],
 [0.08,0.2,0.03,0.12,0.04,0.08,0.15,0.4,0.04,0.06,0.03,0.1,0.08],
 [0.05,0.1,0.02,0.07,0.02,0.05,0.08,0.2,0.02,0.04,0.02,0.06,0.05],
 [0.08,0.2,0.03,0.12,0.04,0.07,0.14,0.3,0.04,0.06,0.03,0.1,0.08],
 [1.1,1.2,0.45,1.2,1.0,1.05,1.35,1.8,1.1,1.25,0.95,1.3,1.1]];
const nrfObs = [[2485,3154,3830],[2080,2330,2650],[1310,1700,2092],[1800,1950,2150],[1977,2437,2897],[1747,2050,2345],[2621,3034,3494],[1149,1300,1517],[2805,3200,3540],[2023,2552,3034],[2276,2805,3310],[2552,2950,3471],[942,1060,1172]];
const nrfBar = [[3115,3346,3577],[2650,2850,3050],[1750,1900,2050],[1850,2050,2250],[2650,2850,3000],[1300,1550,1800],[3200,3350,3500],[1350,1500,1650],[3500,3650,3800],[2950,3050,3150],[1900,2050,2200],[3050,3150,3250],[1100,1200,1300]];
const nrfModels = [
 [3200,3480,3300,3250,3150,3350,3620,3050,3100,3300,3770,3400,3200],
 [2750,2900,2700,2800,2650,2850,3100,2700,2750,2800,2950,2850,2750],
 [1900,2000,1800,1950,1700,2050,2200,1750,1850,2600,1900,1950,1800],
 [2000,2100,1900,2150,1750,2000,2300,1550,1850,2900,1950,2200,2050],
 [2800,3000,2700,2900,2650,2850,3100,2750,2800,2050,3050,2900,2750],
 [1500,1700,1350,1600,1300,1450,1800,1250,1400,1500,2150,1600,1450],
 [3300,3950,3350,3350,3250,3400,3700,3000,3300,3250,3500,3400,3300],
 [1450,2600,1300,1500,1250,1400,1700,2050,1350,1500,1200,1550,1400],
 [3600,3900,3500,3650,3450,3700,3800,3450,3600,3500,3750,3650,3550],
 [3050,3200,2950,3100,2950,3050,3150,2950,3000,2500,2800,3100,3000],
 [2050,2250,1900,2100,1850,2000,2200,1700,1950,1400,2100,2050,1950],
 [3150,3300,3050,3200,3000,3150,3400,3050,3100,2150,2450,3250,3100],
 [1150,1200,1100,1250,1150,1200,1250,1450,1150,1350,1100,1200,1150]];
// Models/Data: [burden (green), RF (blue), NRF (red)]
const ratios = [[2.8,3.0,1.05],[2.45,3.0,1.2],[2.1,2.45,1.1],[4.3,4.5,1.02],[2.35,2.75,1.17],[4.6,3.9,0.77],[0.23,0.27,1.15],[0.36,0.44,1.17],[0.49,0.57,1.2],[0.25,0.31,1.23],[0.26,0.2,0.75],[0.69,0.74,1.05],[0.97,1.15,1.23]];
const RATIO_COLORS = ['#2e8b57','#0a2cff','#ff0000'];

const PROFILES = [prof_a,prof_b,prof_c,prof_d,prof_e,prof_f,prof_g,prof_h,prof_i,prof_j,prof_k,prof_l,prof_m];
const MEANS = [mean_a,mean_b,mean_c,mean_d,mean_e,mean_f,mean_g,mean_h,mean_i,mean_j,mean_k,mean_l,mean_m];
const SIGMAS = [sig_a,sig_b,sig_c,sig_d,sig_e,sig_f,sig_g,sig_h,sig_i,sig_j,sig_k,sig_l,sig_m];
const MEDIANS = [med_a,med_b,med_c,med_d,med_e,med_f,med_g,med_h,med_i,med_j,med_k,med_l,med_m];
const BANDS = [band_a,band_b,band_c,band_d,band_e,band_f,band_g,band_h,band_i,band_j,band_k,band_l,band_m];

// ---------- layout ----------
const FONT = '"Liberation Sans", Arial, Helvetica, sans-serif';
const YELLOW = '#fdfde6';
const ROW_T0 = 60, ROW_H = 209.8, COL_OFF = 605;
const INK = '#1a1a1a';

const grids = [], xAxes = [], yAxes = [], series = [], graphics = [];
function addGrid(g, xa, ya) {
  grids.push(g); const i = grids.length - 1;
  xa.gridIndex = i; ya.gridIndex = i; xAxes.push(xa); yAxes.push(ya); return i;
}
function txt(x, y, text, size, opts) {
  graphics.push(Object.assign({type:'text', x, y, z:50, silent:true,
    style:{text, font: size + 'px ' + FONT, fill: INK, align:'left', verticalAlign:'middle'}}, opts || {}));
}
const axLine = {show:true, lineStyle:{color:'#000', width:1}};
const tickStyle = {color:'#000', width:1};

// axis tick positions for the profile frame (minor ticks at 2..9 x 10^n and 200..900 hPa)
const X_TICKS = []; for (let n = -5; n < 0; n++) for (let k = 1; k < 10; k++) X_TICKS.push([n + Math.log10(k), k === 1]); X_TICKS.push([0, true]);
const Y_TICKS = [100,200,300,400,500,600,700,800,900,1000];

function errBar(gi, xv, arr, color, w) {
  series.push({type:'custom', xAxisIndex:gi, yAxisIndex:gi, z:8, silent:true, clip:false,
    data:[[xv, arr[0], arr[1], arr[2]]], encode:{x:0, y:[1,2,3]},
    renderItem:(params, api) => {
      const x = api.value(0);
      const lo = api.coord([x, api.value(1)]), md = api.coord([x, api.value(2)]), hi = api.coord([x, api.value(3)]);
      const hw = 6, st = lw => ({stroke: color, lineWidth: lw});
      return {type:'group', children:[
        {type:'line', shape:{x1:lo[0], y1:lo[1], x2:hi[0], y2:hi[1]}, style:st(w[0])},
        {type:'line', shape:{x1:lo[0]-hw, y1:lo[1], x2:lo[0]+hw, y2:lo[1]}, style:st(w[1])},
        {type:'line', shape:{x1:hi[0]-hw, y1:hi[1], x2:hi[0]+hw, y2:hi[1]}, style:st(w[1])},
        {type:'line', shape:{x1:md[0]-hw, y1:md[1], x2:md[0]+hw, y2:md[1]}, style:st(w[2])}]};
    }});
}
function diamonds(gi, vals) {
  series.push({type:'scatter', xAxisIndex:gi, yAxisIndex:gi, z:6, silent:true, symbol:'diamond', symbolSize:[10,12],
    data: vals.map((v, m) => ({value:[2, v], itemStyle:{color:'rgba(0,0,0,0)', borderColor: MODEL_COLORS[m], borderWidth:1.2}}))});
}
function subGrid(left, T, width, ymin, ymax, interval, fmt, customX, xmax, extraY) {
  return addGrid({left, top:T+8, width, height:174},
    {type:'value', min:0, max:xmax, axisLine:axLine, axisTick:{show:true, inside:true, length:4, customValues:customX, lineStyle:tickStyle}, axisLabel:{show:false}, splitLine:{show:false}},
    Object.assign({type:'value', min:ymin, max:ymax, interval, axisLine:axLine, axisTick:{show:true, inside:true, length:4, lineStyle:tickStyle},
      axisLabel:{fontSize:8.5, color:INK, margin:3, formatter:fmt}, splitLine:{show:false}}, extraY || {}));
}

PANELS.forEach((id, p) => {
  const col = p % 2, row = Math.floor(p / 2);
  const T = ROW_T0 + row * ROW_H, ox = col * COL_OFF;
  const yellow = (row % 2 === 0) === (col === 0);
  if (yellow) {
    graphics.push({type:'rect', z:-10, silent:true, shape:{x: col ? 615 : 10, y: T, width: col ? 598 : 603, height: p === 12 ? 1526 - T : 208}, style:{fill: YELLOW}});
  } else {
    graphics.push({type:'rect', z:-10, silent:true, shape:{x: 482 + ox, y: T + 1, width: 74, height: 185}, style:{fill: YELLOW}});
  }

  // ---- concentration profile ----
  const gi = addGrid({left:72 + ox, top:T + 8, width:242, height:174, show:true, borderColor:'#000', borderWidth:1, backgroundColor:'rgba(0,0,0,0)'},
    {type:'value', min:-5, max:0, interval:1, axisLine:{show:false}, axisTick:{show:false}, splitLine:{show:false},
     axisLabel:{margin:5, formatter: v => '{b|10}{s|' + v + '}', rich:{b:{fontSize:8, color:INK, lineHeight:11, verticalAlign:'bottom'}, s:{fontSize:5.5, color:INK, lineHeight:6, verticalAlign:'top'}}},
     name:'Concentration [μg/m³]', nameLocation:'middle', nameGap:19, nameTextStyle:{fontSize:8, color:INK}},
    {type:'log', logBase:10, min:100, max:1000, inverse:true, axisLine:{show:false}, axisTick:{show:false}, splitLine:{show:false},
     axisLabel:{fontSize:8, color:INK, margin:3, formatter: v => String(Math.round(v))},
     name:'Pressure [ hPa ]', nameLocation:'middle', nameGap:31, nameRotate:90, nameTextStyle:{fontSize:7.5, color:INK}});

  const band = BANDS[p];
  series.push({type:'custom', xAxisIndex:gi, yAxisIndex:gi, z:1, silent:true, data:[[-2.5, 300]],
    renderItem:(params, api) => {
      const pts = band.map(r => api.coord([r[1], r[0]]));
      for (let i = band.length - 1; i >= 0; i--) pts.push(api.coord([band[i][2], band[i][0]]));
      return {type:'polygon', shape:{points:pts}, style:{fill:'#d9d9d9'}};
    }});
  series.push({type:'custom', xAxisIndex:gi, yAxisIndex:gi, z:9, silent:true, clip:false, data:[[-2.5, 300]],
    renderItem:(params, api) => {
      const ch = [];
      X_TICKS.forEach(([v, major]) => {
        const b = api.coord([v, 1000]), t = api.coord([v, 100]), L = major ? 4 : 2.5;
        ch.push({type:'line', shape:{x1:b[0], y1:b[1], x2:b[0], y2:b[1]-L}, style:{stroke:'#000', lineWidth:0.8}});
        ch.push({type:'line', shape:{x1:t[0], y1:t[1], x2:t[0], y2:t[1]+L}, style:{stroke:'#000', lineWidth:0.8}});
      });
      Y_TICKS.forEach(v => {
        const l = api.coord([-5, v]), r = api.coord([0, v]), L = (v === 100 || v === 1000) ? 4 : 3;
        ch.push({type:'line', shape:{x1:l[0], y1:l[1], x2:l[0]+L, y2:l[1]}, style:{stroke:'#000', lineWidth:0.8}});
        ch.push({type:'line', shape:{x1:r[0], y1:r[1], x2:r[0]-L, y2:r[1]}, style:{stroke:'#000', lineWidth:0.8}});
      });
      return {type:'group', children:ch};
    }});

  const prof = PROFILES[p];
  MODEL_NAMES.forEach((nm, m) => {
    series.push({type:'line', name:nm, xAxisIndex:gi, yAxisIndex:gi, z:3, silent:true, symbol:'none', smooth:0.3,
      data: P_LEVELS.map((pr, i) => [prof[m][i], pr]),
      lineStyle:{color:MODEL_COLORS[m], width:1.2, type: MODEL_DASHED[m] ? [5,4] : 'solid'}});
  });
  series.push({type:'line', xAxisIndex:gi, yAxisIndex:gi, z:4, silent:true, symbol:'none',
    data: MEDIANS[p].map(r => [r[1], r[0]]), lineStyle:{color:'#000', width:1, type:[1,2]}});
  series.push({type:'line', xAxisIndex:gi, yAxisIndex:gi, z:5, silent:true, symbol:'none',
    data: SIGMAS[p].map(r => [r[1], r[0]]), lineStyle:{color:'#000', width:3.8, type:[4,5]}});
  series.push({type:'line', xAxisIndex:gi, yAxisIndex:gi, z:5, silent:true, symbol:'none',
    data: MEANS[p].map(r => [r[1], r[0]]), lineStyle:{color:'#000', width:3.6}});

  txt(84 + ox, T + 27, '(' + id + ')', 16);
  txt(84 + ox, T + 146, PANEL_TITLES[p][0], 16);
  txt(84 + ox, T + 162, PANEL_TITLES[p][1], 16);

  // ---- burden ----
  const gb = subGrid(338 + ox, T, 72, 0, 2, 0.5, v => v.toFixed(1), [1,2], 3.5, {minorTick:{show:true, splitNumber:2, length:2, lineStyle:tickStyle}});
  diamonds(gb, burdenModels[p]);
  errBar(gb, 1, burdenObs[p], '#000', [1.6, 2, 3.5]);
  errBar(gb, 2, burdenBar[p], '#2e8b57', [2, 3.5, 3.5]);
  // ---- RF ----
  const gr = subGrid(410 + ox, T, 72, 0, 3.5, 0.5, v => v.toFixed(1), [1,2], 3.5);
  diamonds(gr, rfModels[p]);
  errBar(gr, 1, rfObs[p], '#000', [1.6, 2, 3.5]);
  errBar(gr, 2, rfBar[p], '#0a2cff', [2, 3.5, 3.5]);
  // ---- NRF ----
  const gn = subGrid(482 + ox, T, 74, 0, 4000, 1000, v => String(v), [1,2], 3.5, {minorTick:{show:true, splitNumber:2, length:2, lineStyle:tickStyle}});
  diamonds(gn, nrfModels[p]);
  errBar(gn, 1, nrfObs[p], '#000', [1.6, 2, 3.5]);
  errBar(gn, 2, nrfBar[p], '#ff0000', [2, 3.5, 3.5]);
  // ---- Models / Data ----
  const gq = addGrid({left:556 + ox, top:T + 8, width:60, height:174},
    {type:'value', min:0, max:4, axisLine:axLine, axisTick:{show:true, inside:true, length:4, customValues:[1,2,3], lineStyle:tickStyle}, axisLabel:{show:false}, splitLine:{show:false}},
    {type:'log', logBase:10, min:0.1, max:10, axisLine:axLine, axisTick:{show:true, inside:true, length:4, lineStyle:tickStyle}, splitLine:{show:false},
     axisLabel:{fontSize:8.5, color:INK, margin:3, formatter: v => Number(v).toFixed(1)}});
  series.push({type:'line', xAxisIndex:gq, yAxisIndex:gq, z:3, silent:true, symbol:'none',
    data:[[0,1],[4,1]], lineStyle:{color:'#000', width:1, type:[1.5,2]}});
  series.push({type:'scatter', xAxisIndex:gq, yAxisIndex:gq, z:6, silent:true, symbol:'rect', symbolSize:8,
    data: ratios[p].map((v, k) => ({value:[k + 1, v], itemStyle:{color: RATIO_COLORS[k]}}))});
});

// ---------- column headers ----------
[0, 591].forEach(dx => {
  txt(72 + dx, 45, 'Concentration [μg/m³]', 16);
  txt(322 + dx, 45, 'Burden [mg/m²]', 16);
  txt(413 + dx, 20, 'RF [W/m²]', 16);
  txt(470 + dx, 45, 'NRF [W/g]', 16);
  txt(527 + dx, 20, 'Models/Data', 16);
});

// ---------- legend ----------
txt(793, 1333, 'Models:', 13);
MODEL_NAMES.forEach((nm, m) => {
  const y = 1346 + m * 12.4;
  graphics.push({type:'line', z:50, silent:true, shape:{x1:675, y1:y - 3, x2:762, y2:y - 3},
    style:{stroke: MODEL_COLORS[m], lineWidth:2.5, lineDash: MODEL_DASHED[m] ? [7,5] : null}});
  txt(793, y, nm, 13);
});
txt(1090, 1336, 'Measurement:', 13);
graphics.push({type:'line', z:50, silent:true, shape:{x1:972, y1:1349, x2:1062, y2:1349}, style:{stroke:'#000', lineWidth:3}});
txt(1090, 1352, 'Mean', 13);
graphics.push({type:'line', z:50, silent:true, shape:{x1:972, y1:1365, x2:1062, y2:1365}, style:{stroke:'#000', lineWidth:3, lineDash:[6,5]}});
txt(1090, 1368, 'Mean + 1σ', 13);
graphics.push({type:'line', z:50, silent:true, shape:{x1:972, y1:1381, x2:1062, y2:1381}, style:{stroke:'#000', lineWidth:1.5, lineDash:[1,2]}});
txt(1090, 1384, 'Median', 13);
graphics.push({type:'rect', z:50, silent:true, shape:{x:972, y:1398, width:94, height:12}, style:{fill:'#d9d9d9'}});
txt(1090, 1401, '25th/75th perc.', 13);

const chart = echarts.init(document.getElementById('c'), null, {renderer:'canvas'});
chart.setOption({animation:false, backgroundColor:'#ffffff', textStyle:{fontFamily:FONT},
  grid:grids, xAxis:xAxes, yAxis:yAxes, series, graphic:graphics});
</script></body></html>
